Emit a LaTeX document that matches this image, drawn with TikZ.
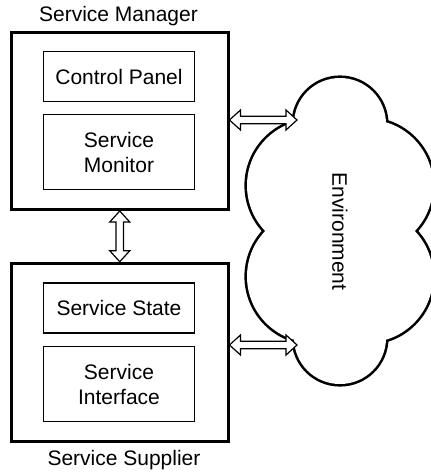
\documentclass[tikz,border=0pt]{standalone}
\usepackage{fontspec}
\setmainfont{Liberation Sans}
\usetikzlibrary{calc}

% Hollow double-headed block arrow between two points
\newcommand\hollowarrow[2]{%
  \draw[arrowline]
    (#1)
    -- ($(#1)!11pt!(#2)!10pt!90:(#2)$)
    -- ($(#1)!11pt!(#2)!3.8pt!90:(#2)$)
    -- ($(#2)!11pt!(#1)!3.8pt!-90:(#1)$)
    -- ($(#2)!11pt!(#1)!10pt!-90:(#1)$)
    -- (#2)
    -- ($(#2)!11pt!(#1)!10pt!90:(#1)$)
    -- ($(#2)!11pt!(#1)!3.8pt!90:(#1)$)
    -- ($(#1)!11pt!(#2)!3.8pt!-90:(#2)$)
    -- ($(#1)!11pt!(#2)!10pt!-90:(#2)$)
    -- cycle;}

\begin{document}
\begin{tikzpicture}[x=1pt,y=-1pt,
  font=\fontsize{21}{25}\selectfont,
  outerbox/.style={draw, line width=3pt, minimum width=216.5pt, inner sep=0pt},
  innerbox/.style={draw, line width=1.2pt, minimum width=151pt, align=center, inner sep=0pt},
  arrowline/.style={draw, fill=white, line width=1.2pt, line join=miter}]

\useasboundingbox (0,0) rectangle (431,472);

% Environment cloud: union of overlapping circles, outline only
\foreach \cx/\cy/\r in {340/124/46, 340/338/46, 313/185.5/66, 313/276.5/66, 367/185.5/66, 367/276.5/66}
  \draw[line width=5.2pt] (\cx,\cy) circle[radius=\r];
\foreach \cx/\cy/\r in {340/124/46, 340/338/46, 313/185.5/66, 313/276.5/66, 367/185.5/66, 367/276.5/66}
  \fill[white] (\cx,\cy) circle[radius=\r];
\node[rotate=-90] (env) at (340,231.5) {Environment};
\coordinate (envtop) at (297,120);
\coordinate (envbot) at (297,345);

% Service manager
\node[outerbox, minimum height=177.5pt] (mgr) at (119.75,120.75) {};
\node[innerbox, minimum height=50pt] (cp) at (119,76.5) {Control Panel};
\node[innerbox, minimum height=75pt] (mon) at (119,152) {Service\\Monitor};
\node[anchor=base] (mgrname) at (118.5,21) {Service Manager};

% Service supplier
\node[outerbox, minimum height=178pt] (sup) at (119.75,352.25) {};
\node[innerbox, minimum height=50pt] (state) at (119,308) {Service State};
\node[innerbox, minimum height=75pt] (iface) at (119,384) {Service\\Interface};
\node[anchor=base] (supname) at (124,465) {Service Supplier};

% Interactions
\hollowarrow{mgr.south}{sup.north}
\hollowarrow{mgr.east |- envtop}{envtop}
\hollowarrow{sup.east |- envbot}{envbot}

\end{tikzpicture}
\end{document}
